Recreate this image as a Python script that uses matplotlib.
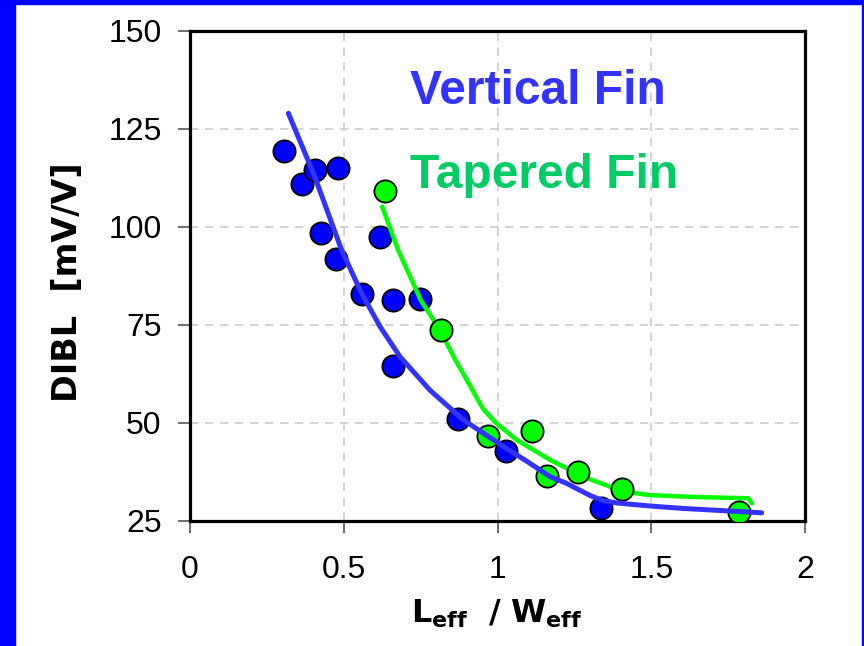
import numpy as np
import matplotlib
matplotlib.use('Agg')
import matplotlib.pyplot as plt
from matplotlib.patches import Rectangle

plt.rcParams['font.family'] = ['Liberation Sans', 'DejaVu Sans']
plt.rcParams['mathtext.fontset'] = 'custom'
plt.rcParams['mathtext.bf'] = 'DejaVu Sans:bold'
plt.rcParams['mathtext.rm'] = 'DejaVu Sans'

# measured points
vert_x = [0.306, 0.364, 0.407, 0.481, 0.426, 0.475, 0.559, 0.618, 0.660, 0.748, 0.660, 0.872, 1.028, 1.337]
vert_y = [119.4, 111.0, 114.5, 115.0, 98.5, 91.8, 82.9, 97.4, 81.4, 81.6, 64.5, 51.0, 42.9, 28.3]
taper_x = [0.634, 0.816, 0.969, 1.112, 1.161, 1.262, 1.405, 1.785]
taper_y = [109.2, 73.7, 46.7, 48.0, 36.5, 37.5, 33.2, 27.3]

# trend lines
vfit_x = [0.320, 0.405, 0.493, 0.558, 0.618, 0.683, 0.780, 0.889, 1.019, 1.100, 1.171,
          1.225, 1.301, 1.344, 1.388, 1.500, 1.604, 1.859]
vfit_y = [129.0, 113.0, 94.1, 83.1, 74.6, 66.9, 58.4, 50.8, 44.0, 40.0, 36.3,
          34.6, 31.5, 30.2, 29.6, 28.8, 28.2, 27.1]
tfit_x = [0.625, 0.677, 0.750, 0.813, 0.860, 0.900, 0.932, 0.954, 0.997, 1.062, 1.171,
          1.279, 1.409, 1.496, 1.650, 1.816, 1.827]
tfit_y = [105.2, 94.1, 81.4, 73.7, 66.5, 61.0, 56.5, 53.5, 49.9, 45.7, 40.6,
          36.3, 32.5, 31.6, 31.1, 30.8, 29.5]

xticks = [0, 0.5, 1, 1.5, 2]
xticklabels = ['0', '0.5', '1', '1.5', '2']
yticks = [25, 50, 75, 100, 125, 150]

fig = plt.figure(figsize=(8.64, 6.46), dpi=100)
W, H = 864., 646.

# blue frame around the slide
for (x0, y0, w, h) in [(0, 0, 15, 646), (0, 0, 864, 4), (862, 0, 2, 646)]:
    fig.patches.append(Rectangle((x0 / W, 1 - (y0 + h) / H), w / W, h / H,
                                 transform=fig.transFigure, color='#0000ff', zorder=0))

ax = fig.add_axes([190 / W, 1 - 521 / H, 615 / W, 490 / H])
ax.set_xlim(0, 2)
ax.set_ylim(25, 150)
ax.set_xticks(xticks)
ax.set_xticklabels(xticklabels)
ax.set_yticks(yticks)
ax.grid(True, color='#cccccc', linestyle=(0, (5, 4)), linewidth=1.2)
ax.set_axisbelow(True)
for s in ax.spines.values():
    s.set_linewidth(2.3)
    s.set_color('black')
ax.tick_params(axis='both', labelsize=23, length=8.5, width=1.2, color='#555555')
ax.tick_params(axis='y', pad=12)
ax.tick_params(axis='x', pad=16)

ax.plot(vert_x, vert_y, 'o', ms=16, mfc='#0000ff', mec='black', mew=1.3, zorder=3)
ax.plot(tfit_x, tfit_y, '-', color='#00ff00', lw=3.2, solid_capstyle='round',
        solid_joinstyle='round', zorder=4)
ax.plot(taper_x, taper_y, 'o', ms=16, mfc='#00ff00', mec='black', mew=1.3, zorder=5)
ax.plot(vfit_x, vfit_y, '-', color='#3333ff', lw=3.6, solid_capstyle='round',
        solid_joinstyle='round', zorder=6)

ax.text(0.715, 131.4, 'Vertical Fin', color='#3333ff', fontsize=34.5,
        fontweight='bold', ha='left', va='baseline', zorder=7)
ax.text(0.715, 110.0, 'Tapered Fin', color='#00cc66', fontsize=34.5,
        fontweight='bold', ha='left', va='baseline', zorder=7)

fig.text(68 / W, 1 - 282 / H, 'DIBL  [mV/V]', rotation=90, ha='center', va='center',
         fontsize=24, fontweight='bold', family=['DejaVu Sans'])
fig.text(497 / W, 1 - 614 / H, r'$\mathbf{L_{eff}}\ \ \mathbf{/}\ \mathbf{W_{eff}}$',
         ha='center', va='center', fontsize=23)

fig.savefig('out.png', dpi=100)
